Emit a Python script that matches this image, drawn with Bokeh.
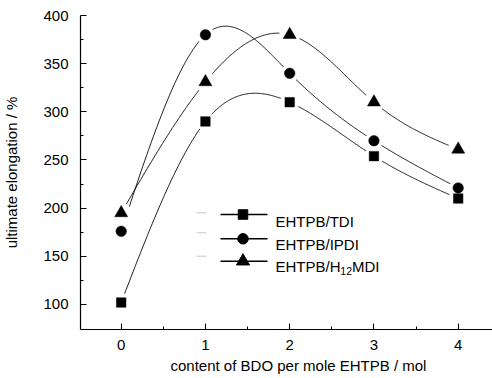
import numpy as np
from bokeh.plotting import figure
from bokeh.models import Range1d, FixedTicker, Title
from bokeh.core.properties import value
from bokeh.embed import file_html
from bokeh.resources import INLINE

# ---------------- data ----------------
bdo = [0, 1, 2, 3, 4]
tdi = [102, 290, 310, 254, 210]
ipdi = [176, 380, 340, 270, 221]
h12mdi = [195, 331, 380, 310, 261]

x_major = [0, 1, 2, 3, 4]
x_minor = [0.5, 1.5, 2.5, 3.5]
y_major = [100, 150, 200, 250, 300, 350, 400]
y_minor = [125, 175, 225, 275, 325, 375]

x_label = "content of BDO per mole EHTPB / mol"
y_label = "ultimate elongation / %"
FONT = "Liberation Sans"

# ---------------- frame geometry (pixels) ----------------
W, H = 492, 378
FX0, FX1, FY0, FY1 = 80, 492, 15, 329
XL, XR, YB, YT = -0.483, 4.407, 74, 400


def dx(px):
    return XL + (px - FX0) / (FX1 - FX0) * (XR - XL)


def dy(py):
    return YT - (py - FY0) / (FY1 - FY0) * (YT - YB)


def natural_spline(xs, ys, xf):
    xs = np.asarray(xs, float)
    ys = np.asarray(ys, float)
    n = len(xs)
    h = np.diff(xs)
    A = np.zeros((n, n))
    r = np.zeros(n)
    A[0, 0] = 1
    A[-1, -1] = 1
    for i in range(1, n - 1):
        A[i, i - 1] = h[i - 1]
        A[i, i] = 2 * (h[i - 1] + h[i])
        A[i, i + 1] = h[i]
        r[i] = 6 * ((ys[i + 1] - ys[i]) / h[i] - (ys[i] - ys[i - 1]) / h[i - 1])
    M = np.linalg.solve(A, r)
    idx = np.clip(np.searchsorted(xs, xf) - 1, 0, n - 2)
    x0, x1 = xs[idx], xs[idx + 1]
    hh = x1 - x0
    return (M[idx] / (6 * hh) * (x1 - xf) ** 3 + M[idx + 1] / (6 * hh) * (xf - x0) ** 3
            + (ys[idx] / hh - M[idx] * hh / 6) * (x1 - xf)
            + (ys[idx + 1] / hh - M[idx + 1] * hh / 6) * (xf - x0))


p = figure(width=W, height=H, output_backend="svg", toolbar_location=None,
           x_range=Range1d(XL, XR), y_range=Range1d(YB, YT),
           min_border_left=FX0, min_border_right=W - FX1,
           min_border_top=FY0, min_border_bottom=H - FY1)
p.outline_line_color = None
p.xgrid.visible = False
p.ygrid.visible = False
p.background_fill_color = "white"
p.border_fill_color = "white"

p.xaxis.ticker = FixedTicker(ticks=x_major, minor_ticks=x_minor)
p.yaxis.ticker = FixedTicker(ticks=y_major, minor_ticks=y_minor)
for ax in (p.xaxis[0], p.yaxis[0]):
    ax.axis_line_color = "black"
    ax.axis_line_width = 1.2
    ax.major_tick_line_color = "black"
    ax.minor_tick_line_color = "black"
    ax.major_tick_line_width = 1.1
    ax.minor_tick_line_width = 1.0
    ax.major_tick_in = 6
    ax.major_tick_out = 0
    ax.minor_tick_in = 3
    ax.minor_tick_out = 0
    ax.major_label_text_font = FONT
    ax.major_label_text_font_size = "15px"
    ax.major_label_text_color = "black"
p.xaxis.major_label_standoff = 10
p.yaxis.major_label_standoff = 12
p.yaxis.axis_label = y_label
p.yaxis.axis_label_text_font = FONT
p.yaxis.axis_label_text_font_size = "15px"
p.yaxis.axis_label_text_font_style = "normal"
p.yaxis.axis_label_text_color = "black"
p.yaxis.axis_label_standoff = 20

# x-axis label placed as a bottom title, centred at x ~ 300 px
p.add_layout(Title(text=x_label, align="left", offset=90, standoff=5,
                   text_font=FONT, text_font_size="15px", text_font_style="normal",
                   text_color="black"), "below")

xf = np.linspace(0, 4, 400)
series = [(tdi, "square", 9.5, 19), (ipdi, "circle", 10.5, 18), (h12mdi, "triangle", 13, 21)]
for ys, _, _, _ in series:
    p.line(xf, natural_spline(bdo, ys, xf), line_color="black", line_width=0.9)
for ys, mk, s, hs in series:
    p.scatter(bdo, ys, marker="circle", size=hs, fill_color="white", line_color=None)
for ys, mk, s, hs in series:
    p.scatter(bdo, ys, marker=mk, size=s, fill_color="black", line_color="black", line_width=0.5)

# ---------------- legend ----------------
row_line_y = [214, 238.3, 260.7]
row_grey_y = [212.3, 232.3, 255.7]
row_base_y = [220.7, 243.5, 266]
markers = [("square", 9.5), ("circle", 10.5), ("triangle", 13)]
for ly, gy, (mk, s) in zip(row_line_y, row_grey_y, markers):
    p.line([dx(196), dx(206)], [dy(gy), dy(gy)], line_color="#c8c8c8", line_width=1)
    p.line([dx(220), dx(267)], [dy(ly), dy(ly)], line_color="black", line_width=1.4)
    p.scatter([dx(242.5)], [dy(ly)], marker=mk, size=s, fill_color="black", line_color="black")

p.text(x=[dx(275), dx(275), dx(275), dx(351.5)],
       y=[dy(row_base_y[0]), dy(row_base_y[1]), dy(row_base_y[2]), dy(row_base_y[2])],
       text=["EHTPB/TDI", "EHTPB/IPDI", "EHTPB/H", "MDI"],
       text_font=value(FONT), text_font_size=value("15px"), text_color="black",
       text_align="left", text_baseline="alphabetic")
p.text(x=[dx(339.8)], y=[dy(270.5)], text=["12"], text_font=value(FONT),
       text_font_size=value("10.5px"), text_color="black",
       text_align="left", text_baseline="alphabetic")

open("out.html", "w").write(file_html(p, INLINE))
